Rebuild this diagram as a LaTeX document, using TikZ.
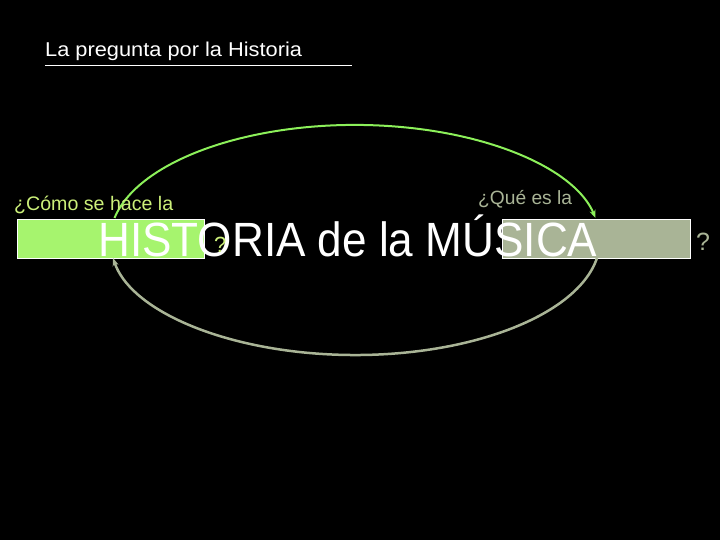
\documentclass[tikz,border=0pt]{standalone}
\usepackage{fontspec}
\setmainfont{Liberation Sans}
\usetikzlibrary{arrows.meta}
\definecolor{boxgreen}{RGB}{166,244,110}
\definecolor{arcgreen}{RGB}{140,240,90}
\definecolor{ygreen}{RGB}{204,240,122}
\definecolor{sage}{RGB}{169,180,150}
\tikzset{
  txt/.style={anchor=base west, inner sep=0pt},
  hlbox/.style={draw=white, line width=0.8pt, anchor=north west, inner sep=0pt},
  arcline/.style={line width=2pt, -{Stealth[length=8pt,width=6pt]}}
}
\begin{document}
\begin{tikzpicture}[x=1pt,y=1pt]
\fill[black] (0,0) rectangle (720,-540);
\useasboundingbox (0,0) rectangle (720,-540);
% title
\node[txt, text=white, font=\fontsize{20}{24}\selectfont] (title) at (45,-56.5) {\scalebox{1.09}[1]{La pregunta por la Historia}};
\draw[white, line width=1pt] (45,-66) -- (352,-66);
% boxes
\node[hlbox, fill=boxgreen, minimum width=187pt, minimum height=39pt] (hbox) at (17,-219) {};
\node[hlbox, fill=sage, minimum width=188pt, minimum height=39pt] (mbox) at (502,-219) {};
% arcs
\coordinate (ga) at (114.5,-218);
\coordinate (sa) at (597,-258);
\draw[arcline, arcgreen] (ga) arc[start angle=169, end angle=11, x radius=245, y radius=115];
\draw[arcline, sage, line width=2.5pt] (sa) arc[start angle=-9, end angle=-171, x radius=245, y radius=115];
% texts
\node[txt, text=ygreen, font=\fontsize{19.6}{23}\selectfont] (como) at (14,-210.5) {¿Cómo se hace la};
\node[txt, text=sage, font=\fontsize{19.2}{23}\selectfont] (que) at (478,-205) {¿Qué es la};
\node[txt, text=white, font=\fontsize{44.1}{50}\selectfont] (main) at (98,-256.5) {\scalebox{1}[1.09]{HISTORIA de la MÚSICA}};
\node[txt, text=ygreen, font=\fontsize{22}{26}\selectfont] (q1) at (214,-252) {?};
\node[txt, text=sage, font=\fontsize{25}{30}\selectfont] (q2) at (696,-250) {?};
\end{tikzpicture}
\end{document}
